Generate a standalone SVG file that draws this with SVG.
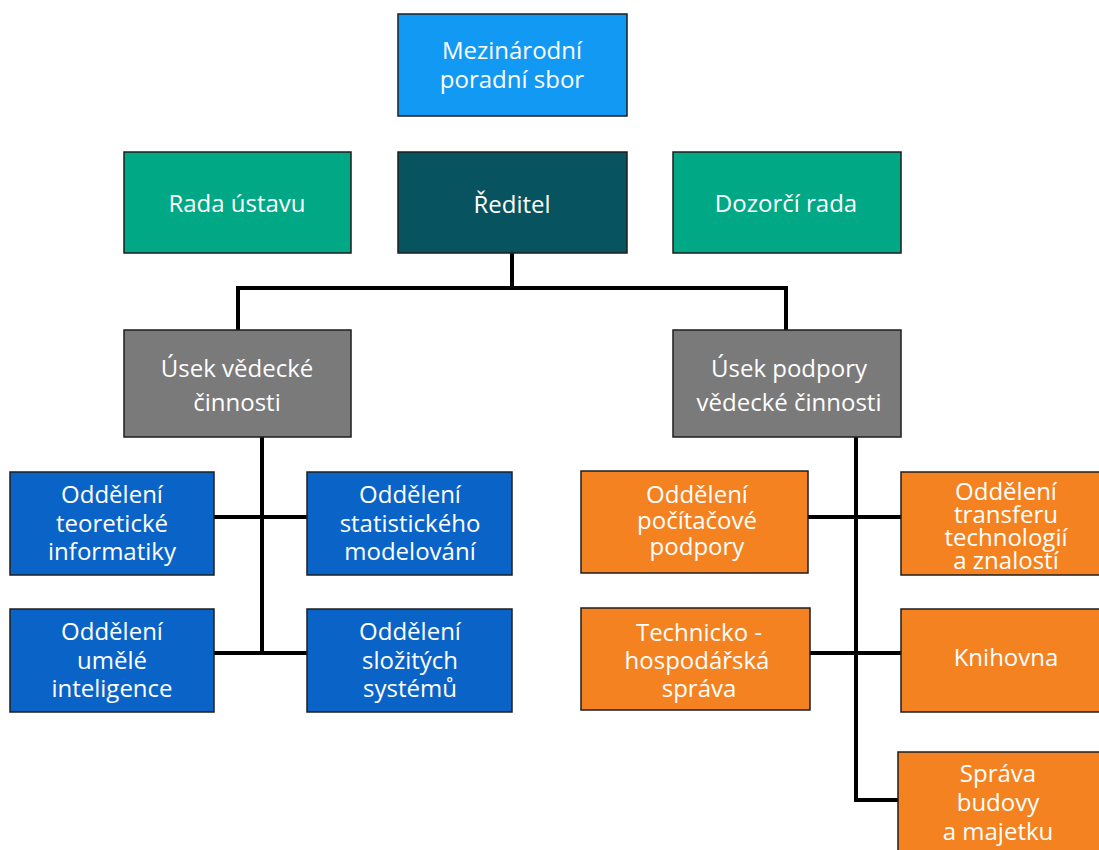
<svg xmlns="http://www.w3.org/2000/svg" width="1099" height="850" viewBox="0 0 1099 850">
<style>
  .box { stroke: #1e1e1e; stroke-width: 1.5; }
  .lb { fill: #1299f4; }
  .gr { fill: #00a885; }
  .dk { fill: #07535f; }
  .gy { fill: #7a7a7a; }
  .bl { fill: #0a64c8; }
  .or { fill: #f58220; }
  text { font-family: "Open Sans", "Noto Sans", "DejaVu Sans", sans-serif; font-size: 24px; fill: #ffffff; text-anchor: middle; }
  .conn { fill: none; stroke: #000000; stroke-width: 4; stroke-linejoin: miter; stroke-linecap: square; }
</style>
<rect x="0" y="0" width="1099" height="850" fill="#ffffff"/>
<g id="connectors">
  <path class="conn" d="M512,253 V288 M238,330 V288 H786 V330"/>
  <path class="conn" d="M262,437 V653 M214,517 H307 M214,653 H307"/>
  <path class="conn" d="M856,437 V800 H898 M808,517 H901 M810,653 H901"/>
</g>
<g id="n_mezinarodni">
  <rect class="box lb" x="398" y="14" width="229" height="102"/>
  <text x="512" y="59">Mezinárodní</text>
  <text x="512" y="88">poradní sbor</text>
</g>
<g id="n_rada">
  <rect class="box gr" x="124" y="152" width="227" height="101"/>
  <text x="237" y="212">Rada ústavu</text>
</g>
<g id="n_reditel">
  <rect class="box dk" x="398" y="152" width="229" height="101"/>
  <text x="512" y="213">Ředitel</text>
</g>
<g id="n_dozorci">
  <rect class="box gr" x="673" y="152" width="228" height="101"/>
  <text x="786" y="212">Dozorčí rada</text>
</g>
<g id="n_usek_vedecke">
  <rect class="box gy" x="124" y="330" width="227" height="107"/>
  <text x="237" y="377">Úsek vědecké</text>
  <text x="237" y="411">činnosti</text>
</g>
<g id="n_usek_podpory">
  <rect class="box gy" x="673" y="330" width="228" height="107"/>
  <text x="789" y="377">Úsek podpory</text>
  <text x="789" y="411">vědecké činnosti</text>
</g>
<g id="n_teoreticke">
  <rect class="box bl" x="10" y="472" width="204" height="103"/>
  <text x="112" y="503">Oddělení</text>
  <text x="112" y="532">teoretické</text>
  <text x="112" y="560">informatiky</text>
</g>
<g id="n_statistickeho">
  <rect class="box bl" x="307" y="472" width="205" height="103"/>
  <text x="410" y="503">Oddělení</text>
  <text x="410" y="532">statistického</text>
  <text x="410" y="560">modelování</text>
</g>
<g id="n_umele">
  <rect class="box bl" x="10" y="609" width="204" height="103"/>
  <text x="112" y="640">Oddělení</text>
  <text x="112" y="669">umělé</text>
  <text x="112" y="697">inteligence</text>
</g>
<g id="n_slozitych">
  <rect class="box bl" x="307" y="609" width="205" height="103"/>
  <text x="410" y="640">Oddělení</text>
  <text x="410" y="669">složitých</text>
  <text x="410" y="697">systémů</text>
</g>
<g id="n_pocitacove">
  <rect class="box or" x="581" y="471" width="227" height="102"/>
  <text x="697" y="503">Oddělení</text>
  <text x="697" y="529">počítačové</text>
  <text x="697" y="555">podpory</text>
</g>
<g id="n_transferu">
  <rect class="box or" x="901" y="472" width="212" height="103"/>
  <text x="1006" y="500">Oddělení</text>
  <text x="1006" y="523">transferu</text>
  <text x="1006" y="546">technologií</text>
  <text x="1006" y="569">a znalostí</text>
</g>
<g id="n_technicko">
  <rect class="box or" x="581" y="608" width="229" height="102"/>
  <text x="699" y="641">Technicko  -</text>
  <text x="697" y="669">hospodářská</text>
  <text x="699" y="697">správa</text>
</g>
<g id="n_knihovna">
  <rect class="box or" x="901" y="609" width="212" height="103"/>
  <text x="1006" y="666">Knihovna</text>
</g>
<g id="n_sprava">
  <rect class="box or" x="898" y="752" width="205" height="110"/>
  <text x="998" y="782">Správa</text>
  <text x="998" y="811">budovy</text>
  <text x="998" y="840">a majetku</text>
</g>
</svg>
